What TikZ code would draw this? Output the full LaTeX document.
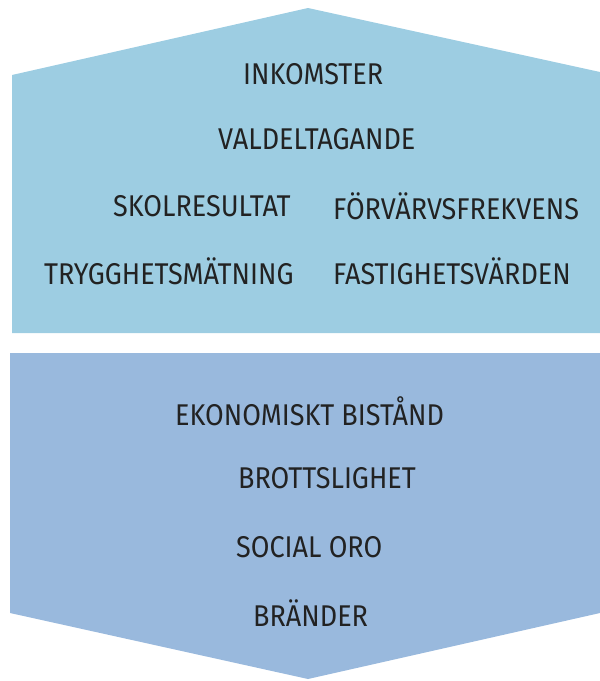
\documentclass[tikz,border=0pt]{standalone}
\usepackage{fontspec}
\setmainfont{Fira Sans}
\definecolor{topblue}{HTML}{9DCDE2}
\definecolor{botblue}{HTML}{99B9DD}
\definecolor{txt}{HTML}{222222}
\tikzset{
  lbl/.style={anchor=west, inner sep=0pt, text=txt, font=\fontsize{30}{30}\selectfont},
}
\newcommand{\sq}[1]{\scalebox{0.9}[1]{#1}}
\begin{document}
\begin{tikzpicture}[x=1pt,y=-1pt]
\useasboundingbox (0,0) rectangle (600,681);
\fill[topblue] (12,75) -- (308,8) -- (600,72) -- (600,333) -- (12,333) -- cycle;
\fill[botblue] (10,353) -- (600,353) -- (600,613) -- (308,679) -- (10,613) -- cycle;
\node[lbl] (inkomster) at (243,74) {\sq{INKOMSTER}};
\node[lbl] (valdeltagande) at (218,139) {\sq{VALDELTAGANDE}};
\node[lbl] (skol) at (113,206) {\sq{SKOLRESULTAT}};
\node[lbl] (forvarv) at (333,206) {\sq{FÖRVÄRVSFREKVENS}};
\node[lbl] (trygg) at (44,271) {\sq{TRYGGHETSMÄTNING}};
\node[lbl] (fastig) at (333,271) {\sq{FASTIGHETSVÄRDEN}};
\node[lbl] (ekon) at (175,411) {\sq{EKONOMISKT BISTÅND}};
\node[lbl] (brott) at (238,478) {\sq{BROTTSLIGHET}};
\node[lbl] (social) at (236,547) {\sq{SOCIAL ORO}};
\node[lbl] (brander) at (253,613) {\sq{BRÄNDER}};
\end{tikzpicture}
\end{document}
